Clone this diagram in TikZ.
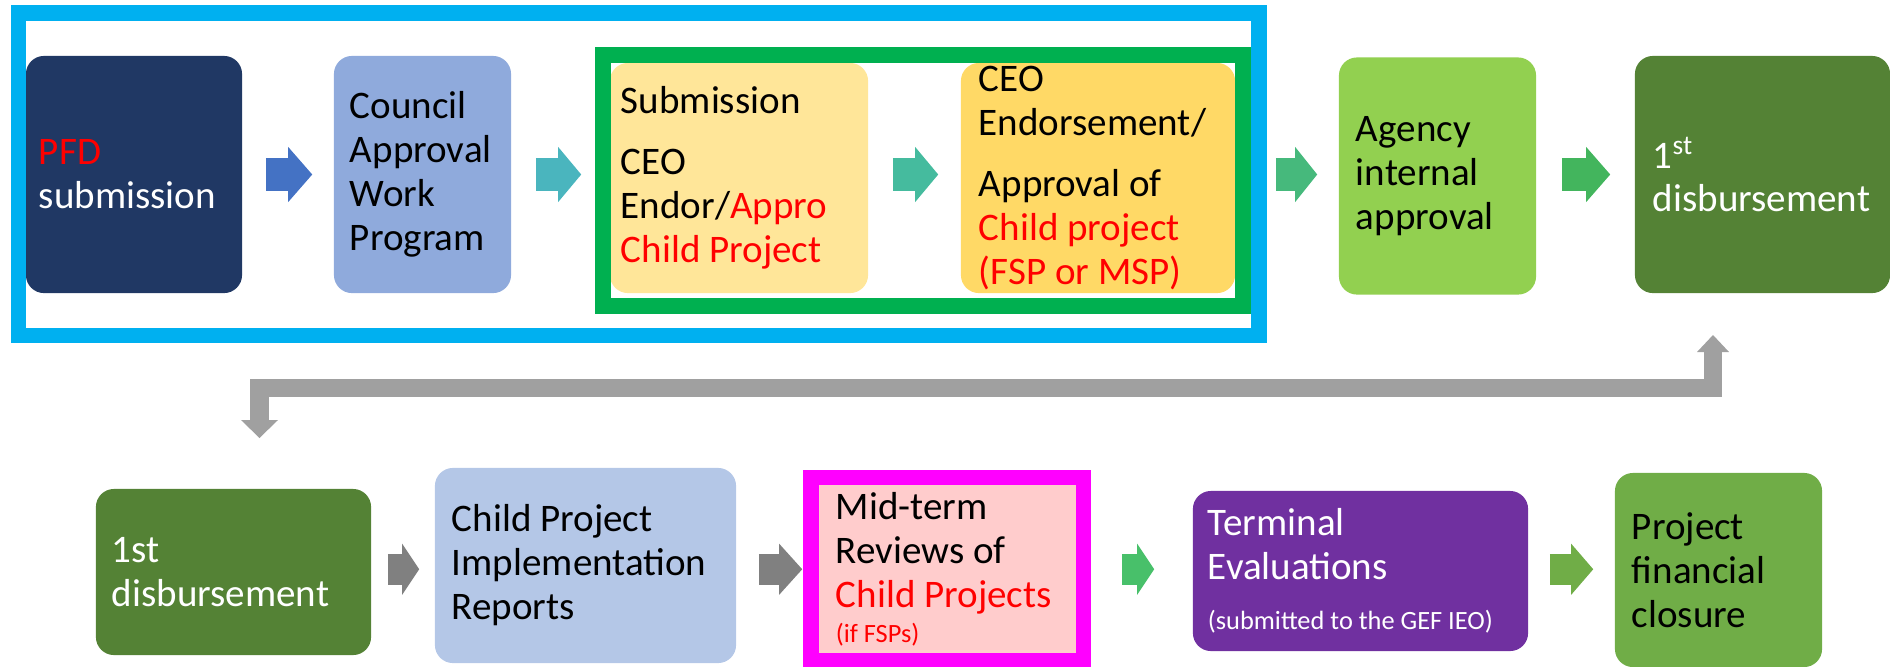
\documentclass[tikz,border=0pt]{standalone}
\usepackage{fontspec}
\setmainfont{Carlito}
\usetikzlibrary{arrows.meta, positioning}
\hyphenpenalty=10000
\exhyphenpenalty=10000

\definecolor{pfdblue}{HTML}{203864}
\definecolor{councilblue}{HTML}{8FAADC}
\definecolor{subyellow}{HTML}{FFE699}
\definecolor{ceoyellow}{HTML}{FFD966}
\definecolor{agencygreen}{HTML}{92D050}
\definecolor{disbgreen}{HTML}{548235}
\definecolor{childblue}{HTML}{B4C7E7}
\definecolor{midpink}{HTML}{FFCCCC}
\definecolor{termpurple}{HTML}{7030A0}
\definecolor{closegreen}{HTML}{70AD47}
\definecolor{frameblue}{HTML}{00B0F0}
\definecolor{framegreen}{HTML}{00B050}
\definecolor{framemagenta}{HTML}{FF00FF}
\definecolor{arrowa}{HTML}{4472C4}
\definecolor{arrowb}{HTML}{4AB5BE}
\definecolor{arrowc}{HTML}{45BB9E}
\definecolor{arrowd}{HTML}{46B97C}
\definecolor{arrowe}{HTML}{43B55D}
\definecolor{arrowf}{HTML}{48C06A}
\definecolor{backgray}{HTML}{A0A0A0}

\begin{document}
\begin{tikzpicture}[
    x=0.01cm, y=-0.01cm,
    box/.style={rectangle, rounded corners=0.18cm, align=flush left, inner ysep=0pt,
        font=\fontsize{11.1pt}{12.5pt}\selectfont},
    frame/.style={line width=0.155cm, line join=miter},
    arrow/.style={line width=0.335cm, -{Triangle[length=#1, width=0.55cm, line width=0pt]}},
    lowarrow/.style={line width=0.315cm, -{Triangle[length=#1, width=0.51cm, line width=0pt]}},
    backline/.style={draw=backgray, line width=0.18cm, line join=miter,
        {Triangle[length=0.18cm, width=0.37cm, line width=0pt]}-{Triangle[length=0.17cm, width=0.32cm, line width=0pt]}}
]
\useasboundingbox (0,0) rectangle (1890,666);

% Nodes
\node[box, fill=pfdblue, text=white, text width=1.90cm, inner xsep=0.13cm, minimum height=2.37cm]
    (pfd) at (134,174.5) {{\color{red}PFD}\\submission};
\node[box, fill=councilblue, text width=1.45cm, inner xsep=0.16cm, minimum height=2.37cm]
    (council) at (422.5,174.5) {Council\\Approval\\Work\\Program};
\node[box, fill=subyellow, text width=2.36cm, inner xsep=0.11cm, minimum height=2.30cm]
    (sub) at (739,178) {Submission\\[0.17cm]CEO\\Endor/{\color{red}Appro}\\{\color{red}Child Project}};
\node[box, fill=ceoyellow, text width=2.38cm, inner xsep=0.18cm, minimum height=2.30cm]
    (ceo) at (1098,178) {CEO\\Endorsement/\\[0.17cm]Approval of\\{\color{red}Child project}\\{\color{red}(FSP or MSP)}};
\node[box, fill=agencygreen, text width=1.63cm, inner xsep=0.17cm, minimum height=2.37cm]
    (agency) at (1437.5,176) {Agency\\internal\\approval};
\node[box, fill=disbgreen, text=white, text width=2.19cm, inner xsep=0.18cm, minimum height=2.37cm]
    (disbA) at (1762.5,174.5) {1\textsuperscript{st}\\disbursement};

\node[box, fill=disbgreen, text=white, text width=2.43cm, inner xsep=0.16cm, minimum height=1.66cm]
    (disbB) at (233.5,572) {1st\\disbursement};
\node[box, fill=childblue, text width=2.67cm, inner xsep=0.17cm, minimum height=1.95cm]
    (child) at (585.5,565.5) {Child Project\\Implementation\\Reports};
\node[box, rounded corners=0pt, fill=midpink, text width=2.225cm, inner xsep=0.25cm, minimum height=1.835cm]
    (mid) at (947.25,569.25) {Mid-term\\Reviews of\\{\color{red}Child Projects}\\[-0.09cm]{\color{red}\fontsize{7.5pt}{8pt}\selectfont(if FSPs)}};
\node[box, fill=termpurple, text=white, text width=3.05cm, inner xsep=0.15cm, minimum height=1.60cm]
    (term) at (1360.5,571) {Terminal\\Evaluations\\[0.06cm]{\fontsize{7.5pt}{8pt}\selectfont(submitted to the GEF IEO)}};
\node[box, fill=closegreen, text width=1.73cm, inner xsep=0.17cm, minimum height=1.94cm]
    (proj) at (1718.5,570) {Project\\financial\\closure};

% Frames
\draw[frame, draw=frameblue] (18.5,13) rectangle (1259,335.5);
\draw[frame, draw=framegreen] (603,55) rectangle (1243,306);
\draw[frame, draw=framemagenta] (811,477.5) rectangle (1083.5,661);

% Arrows
\draw[arrow=0.24cm, draw=arrowa, shorten <=0.23cm, shorten >=0.21cm] (pfd.east) -- (council.west);
\draw[arrow=0.23cm, draw=arrowb, shorten <=0.24cm, shorten >=0.28cm] (council.east) -- (council.east -| sub.west);
\draw[arrow=0.23cm, draw=arrowc, shorten <=0.24cm, shorten >=0.22cm] (sub.east |- pfd.east) -- (ceo.west |- pfd.east);
\draw[arrow=0.22cm, draw=arrowd, shorten <=0.40cm, shorten >=0.21cm] (ceo.east |- pfd.east) -- (agency.west |- pfd.east);
\draw[arrow=0.24cm, draw=arrowe, shorten <=0.25cm, shorten >=0.24cm] (agency.east |- pfd.east) -- (disbA.west);

\draw[lowarrow=0.17cm, draw=gray, shorten <=0.16cm, shorten >=0.15cm] (disbB.east |- mid.west) -- (child.west |- mid.west);
\draw[lowarrow=0.23cm, draw=gray, shorten <=0.22cm, shorten >=0.08cm] (child.east |- mid.west) -- (mid.west);
\draw[lowarrow=0.17cm, draw=arrowf, shorten <=0.375cm, shorten >=0.38cm] (mid.east) -- (term.west |- mid.west);
\draw[lowarrow=0.22cm, draw=closegreen, shorten <=0.21cm, shorten >=0.21cm] (term.east |- mid.west) -- (proj.west |- mid.west);

% Link back to the second row
\coordinate (backdown) at (259.5,438);
\coordinate (backbend) at (1000,388);
\coordinate (backup) at (1713,335);
\draw[backline] (backdown) |- (backbend) -| (backup);

\end{tikzpicture}
\end{document}
